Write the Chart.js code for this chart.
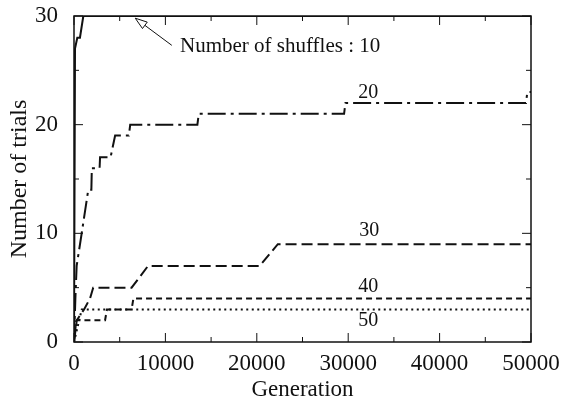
<!DOCTYPE html>
<html>
<head>
<meta charset="utf-8">
<script src="https://cdn.jsdelivr.net/npm/chart.js@4"></script>
<style>
  body { margin: 0; background: #fff; }
  #wrap { width: 561px; height: 407px; }
</style>
</head>
<body>
<div id="wrap"><canvas id="c" width="561" height="407"></canvas></div>
<script>
// number of shuffles : 10
const gen10 = [0, 110, 360, 650, 1020, 50000];
const trials10 = [0, 27, 28, 28, 30, 30];
// 20
const gen20 = [0, 150, 290, 840, 1560, 1900, 1950, 2800, 2850, 4000, 4500, 6000, 6150, 13500, 13650, 29550, 29700, 49450, 49600, 50000];
const trials20 = [0, 4, 7, 10, 14, 14, 16, 16, 17, 17, 19, 19, 20, 20, 21, 21, 22, 22, 23, 23];
// 30
const gen30 = [0, 300, 1100, 1750, 2100, 6300, 8100, 20300, 22300, 50000];
const trials30 = [0, 2, 3, 4, 5, 5, 7, 7, 9, 9];
// 40
const gen40 = [0, 250, 3400, 3600, 6300, 6500, 50000];
const trials40 = [0, 2, 2, 3, 3, 4, 4];
// 50
const gen50 = [0, 850, 50000];
const trials50 = [0, 3, 3];

const labelText = ['20', '30', '40', '50'];
const labelGen = [32200, 32300, 32200, 32200];
const labelTrials = [22.9, 10.2, 5.1, 2.0];

const serif = '"Liberation Serif", "Times New Roman", serif';
const ink = '#111';

function pts(xs, ys) {
  return xs.map((x, i) => ({ x: x, y: ys[i] }));
}

function series(xs, ys, dash) {
  return {
    data: pts(xs, ys),
    borderColor: ink,
    borderWidth: 2,
    borderDash: dash,
    pointRadius: 0,
    fill: false,
    tension: 0
  };
}

// frame, inward ticks and the text labels
const decor = {
  id: 'decor',
  afterDatasetsDraw(chart) {
    const ctx = chart.ctx;
    const a = chart.chartArea;
    const xs = chart.scales.x, ys = chart.scales.y;
    ctx.save();
    ctx.strokeStyle = ink;
    ctx.lineWidth = 1;
    for (let g = 0; g <= 50000; g += 5000) {
      const px = xs.getPixelForValue(g);
      const len = g % 10000 === 0 ? 9 : 5;
      ctx.beginPath();
      ctx.moveTo(px, a.bottom); ctx.lineTo(px, a.bottom - len);
      ctx.moveTo(px, a.top); ctx.lineTo(px, a.top + len);
      ctx.stroke();
    }
    for (let v = 0; v <= 30; v += 5) {
      const py = ys.getPixelForValue(v);
      const len = v % 10 === 0 ? 9 : 5;
      ctx.beginPath();
      ctx.moveTo(a.left, py); ctx.lineTo(a.left + len, py);
      ctx.moveTo(a.right, py); ctx.lineTo(a.right - len, py);
      ctx.stroke();
    }
    ctx.lineWidth = 1.5;
    ctx.strokeRect(a.left, a.top, a.right - a.left, a.bottom - a.top);

    ctx.fillStyle = ink;
    ctx.font = '20px ' + serif;
    ctx.textAlign = 'center';
    ctx.textBaseline = 'middle';
    labelText.forEach((t, i) => {
      ctx.fillText(t, xs.getPixelForValue(labelGen[i]), ys.getPixelForValue(labelTrials[i]));
    });
    ctx.font = '21px ' + serif;
    ctx.textAlign = 'left';
    ctx.fillText('Number of shuffles : 10', xs.getPixelForValue(11600), ys.getPixelForValue(27.2));

    // arrow pointing at the top line
    const tx = xs.getPixelForValue(6700), ty = ys.getPixelForValue(29.8);
    const fx = xs.getPixelForValue(10700), fy = ys.getPixelForValue(27.3);
    const ang = Math.atan2(ty - fy, tx - fx);
    const hl = 12, hw = 4;
    const bx = tx - hl * Math.cos(ang), by = ty - hl * Math.sin(ang);
    ctx.lineWidth = 1;
    ctx.beginPath();
    ctx.moveTo(fx, fy); ctx.lineTo(bx, by);
    ctx.stroke();
    ctx.beginPath();
    ctx.moveTo(tx, ty);
    ctx.lineTo(bx + hw * Math.sin(ang), by - hw * Math.cos(ang));
    ctx.lineTo(bx - hw * Math.sin(ang), by + hw * Math.cos(ang));
    ctx.closePath();
    ctx.fillStyle = '#fff';
    ctx.fill();
    ctx.stroke();
    ctx.restore();
  }
};

new Chart(document.getElementById('c'), {
  type: 'line',
  data: {
    datasets: [
      series(gen10, trials10, []),
      series(gen20, trials20, [18, 5, 3, 5]),
      series(gen30, trials30, [11, 5]),
      series(gen40, trials40, [6, 4]),
      series(gen50, trials50, [2, 3.5])
    ]
  },
  options: {
    responsive: false,
    animation: false,
    layout: { padding: { top: 16, right: 30, left: 0, bottom: 0 } },
    plugins: { legend: { display: false }, tooltip: { enabled: false } },
    scales: {
      x: {
        type: 'linear',
        min: 0, max: 50000,
        grid: { display: false },
        border: { display: false },
        ticks: {
          stepSize: 10000, padding: 0, color: ink, maxRotation: 0,
          font: { family: serif, size: 23 },
          callback: v => String(v)
        },
        title: { display: true, text: 'Generation', color: ink, font: { family: serif, size: 23 }, padding: { top: 0, bottom: 3 } },
        afterFit(s) { s.height = 65; s.paddingLeft = 0; s.paddingRight = 0; }
      },
      y: {
        min: 0, max: 30,
        grid: { display: false },
        border: { display: false },
        ticks: { stepSize: 10, padding: 8, color: ink, font: { family: serif, size: 23 } },
        title: { display: true, text: 'Number of trials', color: ink, font: { family: serif, size: 24 }, padding: { top: 5, bottom: 0 } },
        afterFit(s) { s.width = 74; s.paddingTop = 0; s.paddingBottom = 0; }
      }
    }
  },
  plugins: [decor]
});
</script>
</body>
</html>
